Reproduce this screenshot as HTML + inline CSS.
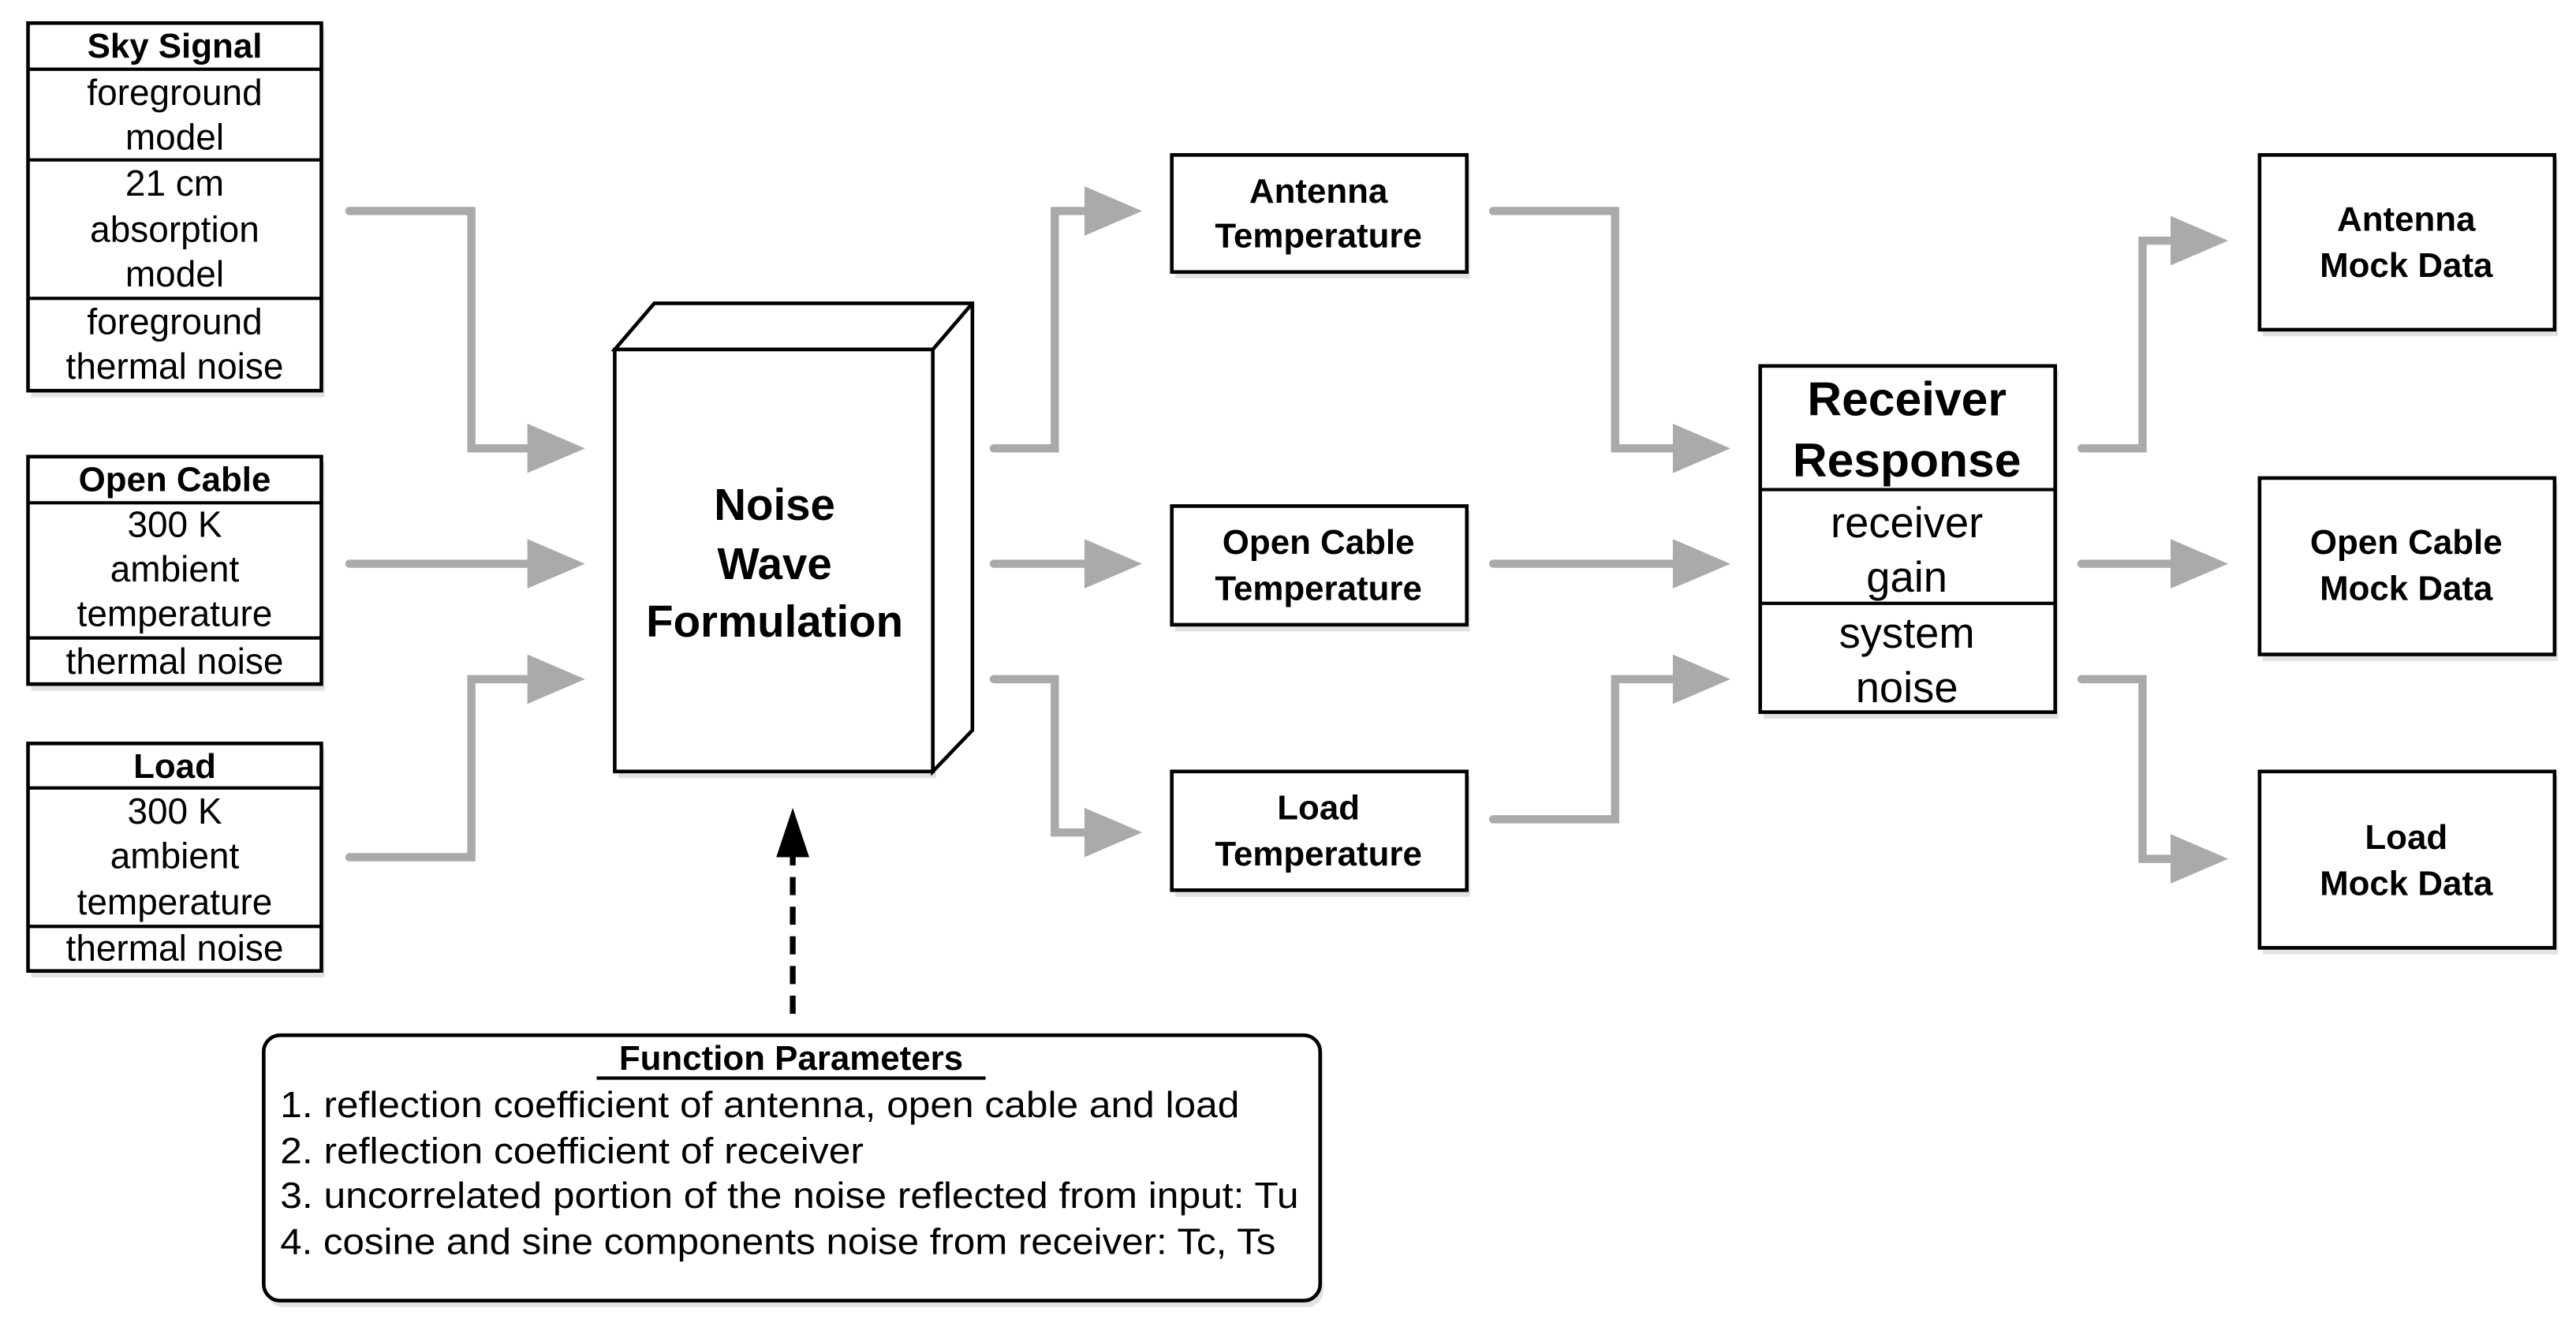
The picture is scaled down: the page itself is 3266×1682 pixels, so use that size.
<!DOCTYPE html>
<html><head><meta charset="utf-8"><style>html,body{margin:0;padding:0;background:#fff}svg{display:block}</style></head>
<body>
<svg width="3266" height="1682" viewBox="0 0 1563 805" preserveAspectRatio="none" xmlns="http://www.w3.org/2000/svg" font-family="Liberation Sans, Arial, sans-serif">
<g fill="#e2e2e2">
<rect x="19" y="17" width="178" height="224"/>
<rect x="19" y="280" width="178" height="139"/>
<rect x="19" y="454" width="178" height="139"/>
<rect x="375" y="215" width="193" height="257"/>
<rect x="713" y="97" width="179" height="72"/>
<rect x="713" y="310" width="179" height="73"/>
<rect x="713" y="471" width="179" height="73"/>
<rect x="1070" y="225" width="179" height="211"/>
<rect x="1373" y="97" width="179" height="107"/>
<rect x="1373" y="293" width="179" height="108"/>
<rect x="1373" y="471" width="179" height="108"/>
<rect x="162" y="631" width="641" height="162" rx="10"/>
</g>
<g fill="#fff" stroke="#000" stroke-width="2.2">
<rect x="17" y="14" width="178" height="223"/>
<rect x="17" y="277" width="178" height="138"/>
<rect x="17" y="451" width="178" height="138"/>
<polygon points="373,212 397,184 590,184 590,443 566,468 566,212"/>
<line x1="566" y1="212" x2="590" y2="184"/>
<rect x="373" y="212" width="193" height="256"/>
<rect x="711" y="94" width="179" height="71"/>
<rect x="711" y="307" width="179" height="72"/>
<rect x="711" y="468" width="179" height="72"/>
<rect x="1068" y="222" width="179" height="210"/>
<rect x="1371" y="94" width="179" height="106"/>
<rect x="1371" y="290" width="179" height="107"/>
<rect x="1371" y="468" width="179" height="107"/>
<rect x="160" y="628" width="641" height="161" rx="10"/>
</g>
<g stroke="#000" stroke-width="2">
<line x1="17" y1="42" x2="195" y2="42"/><line x1="17" y1="97" x2="195" y2="97"/><line x1="17" y1="181" x2="195" y2="181"/>
<line x1="17" y1="305" x2="195" y2="305"/><line x1="17" y1="387" x2="195" y2="387"/>
<line x1="17" y1="478" x2="195" y2="478"/><line x1="17" y1="562" x2="195" y2="562"/>
<line x1="1068" y1="297" x2="1247" y2="297"/><line x1="1068" y1="366" x2="1247" y2="366"/>
</g>
<g fill="none" stroke="#aaa" stroke-width="5" stroke-linejoin="miter" stroke-linecap="round">
<polyline points="212,128 286,128 286,272 322,272"/>
<polyline points="212,342 322,342"/>
<polyline points="212,520 286,520 286,412 322,412"/>
<polyline points="603,272 640,272 640,128 660,128"/>
<polyline points="603,342 660,342"/>
<polyline points="603,412 640,412 640,505 660,505"/>
<polyline points="906,128 980,128 980,272 1017,272"/>
<polyline points="906,342 1017,342"/>
<polyline points="906,497 980,497 980,412 1017,412"/>
<polyline points="1263,272 1300,272 1300,146 1319,146"/>
<polyline points="1263,342 1319,342"/>
<polyline points="1263,412 1300,412 1300,521 1319,521"/>
</g>
<g fill="#aaa">
<polygon points="320,257 355,272 320,287"/><polygon points="320,327 355,342 320,357"/><polygon points="320,397 355,412 320,427"/>
<polygon points="658,113 693,128 658,143"/><polygon points="658,327 693,342 658,357"/><polygon points="658,490 693,505 658,520"/>
<polygon points="1015,257 1050,272 1015,287"/><polygon points="1015,327 1050,342 1015,357"/><polygon points="1015,397 1050,412 1015,427"/>
<polygon points="1317,131 1352,146 1317,161"/><polygon points="1317,327 1352,342 1317,357"/><polygon points="1317,506 1352,521 1317,536"/>
</g>
<line x1="481" y1="615" x2="481" y2="516" stroke="#000" stroke-width="3.5" stroke-dasharray="11,7"/>
<polygon points="471,520 481,490 491,520" fill="#000"/>
<g text-anchor="middle" dominant-baseline="central" fill="#000">
<g font-size="21" font-weight="bold">
<text x="106" y="28">Sky Signal</text><text x="106" y="291">Open Cable</text><text x="106" y="465">Load</text>
<text x="800" y="116">Antenna</text><text x="800" y="143">Temperature</text>
<text x="800" y="329">Open Cable</text><text x="800" y="357">Temperature</text>
<text x="800" y="490">Load</text><text x="800" y="518">Temperature</text>
<text x="1460" y="133">Antenna</text><text x="1460" y="161">Mock Data</text>
<text x="1460" y="329">Open Cable</text><text x="1460" y="357">Mock Data</text>
<text x="1460" y="508">Load</text><text x="1460" y="536">Mock Data</text>
</g>
<g font-size="22">
<text x="106" y="56">foreground</text><text x="106" y="83">model</text>
<text x="106" y="111">21 cm</text><text x="106" y="139">absorption</text><text x="106" y="166">model</text>
<text x="106" y="195">foreground</text><text x="106" y="222">thermal noise</text>
<text x="106" y="318">300 K</text><text x="106" y="345">ambient</text><text x="106" y="372">temperature</text><text x="106" y="401">thermal noise</text>
<text x="106" y="492">300 K</text><text x="106" y="519">ambient</text><text x="106" y="547">temperature</text><text x="106" y="575">thermal noise</text>
</g>
<g font-size="27" font-weight="bold">
<text x="470" y="306">Noise</text><text x="470" y="342">Wave</text><text x="470" y="377">Formulation</text>
</g>
<g font-size="29" font-weight="bold">
<text x="1157" y="242">Receiver</text><text x="1157" y="279">Response</text>
</g>
<g font-size="26">
<text x="1157" y="317">receiver</text><text x="1157" y="350">gain</text>
<text x="1157" y="384">system</text><text x="1157" y="417">noise</text>
</g>
<text x="480" y="642" font-size="21" font-weight="bold">Function Parameters</text>
</g>
<line x1="362" y1="654" x2="598" y2="654" stroke="#000" stroke-width="2"/>
<g font-size="22" dominant-baseline="central" fill="#000">
<text x="170" y="670" textLength="582" lengthAdjust="spacingAndGlyphs">1. reflection coefficient of antenna, open cable and load</text>
<text x="170" y="698" textLength="354" lengthAdjust="spacingAndGlyphs">2. reflection coefficient of receiver</text>
<text x="170" y="725" textLength="618" lengthAdjust="spacingAndGlyphs">3. uncorrelated portion of the noise reflected from input: Tu</text>
<text x="170" y="753" textLength="604" lengthAdjust="spacingAndGlyphs">4. cosine and sine components noise from receiver: Tc, Ts</text>
</g>
</svg>
</body></html>
